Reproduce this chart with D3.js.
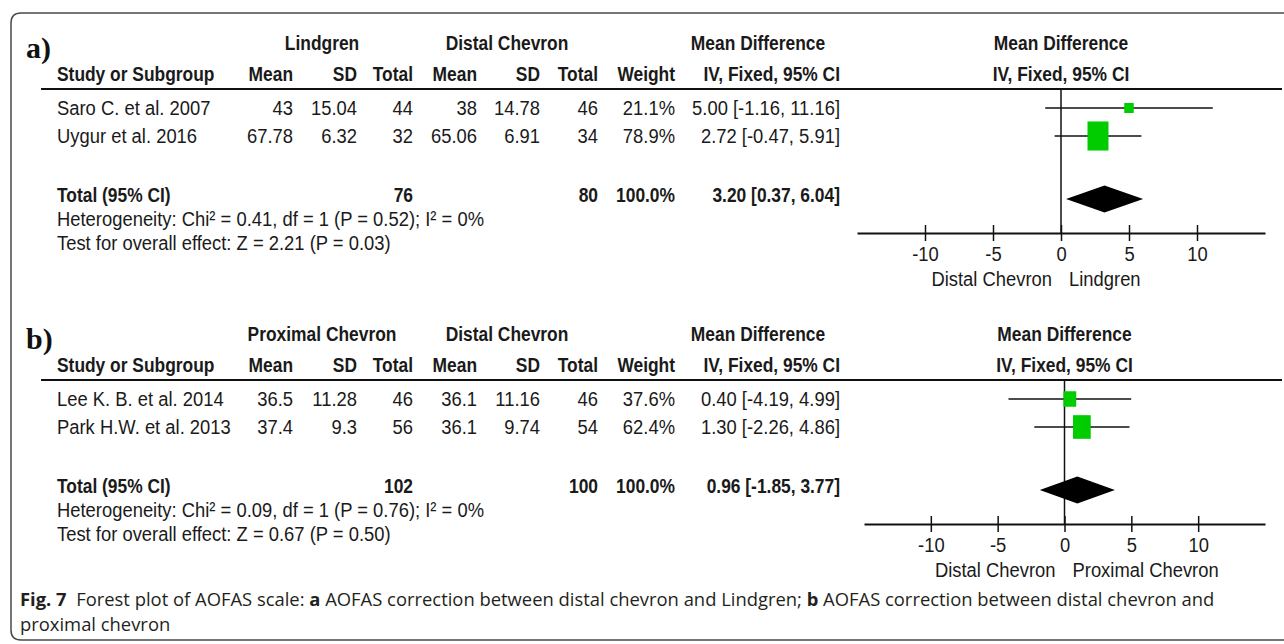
<!DOCTYPE html>
<html><head><meta charset="utf-8">
<script src="https://cdn.jsdelivr.net/npm/d3@7"></script>
<style>
html,body{margin:0;padding:0;background:#fff;}
svg{display:block;}
</style></head><body>
<svg id="c" width="1284" height="644"></svg>
<script>
// ---------------- data ----------------
const panelLabels = ["a)", "b)"];
const expGroups = ["Lindgren", "Proximal Chevron"];
const ctrlGroups = ["Distal Chevron", "Distal Chevron"];

const studiesA = ["Saro C. et al. 2007", "Uygur et al. 2016"];
const expMeanA = [43, 67.78];
const expSDA = [15.04, 6.32];
const expNA = [44, 32];
const ctrlMeanA = [38, 65.06];
const ctrlSDA = [14.78, 6.91];
const ctrlNA = [46, 34];
const weightA = [21.1, 78.9];
const mdA = [5.00, 2.72];
const loA = [-1.16, -0.47];
const hiA = [11.16, 5.91];

const studiesB = ["Lee K. B. et al. 2014", "Park H.W. et al. 2013"];
const expMeanB = [36.5, 37.4];
const expSDB = [11.28, 9.3];
const expNB = [46, 56];
const ctrlMeanB = [36.1, 36.1];
const ctrlSDB = [11.16, 9.74];
const ctrlNB = [46, 54];
const weightB = [37.6, 62.4];
const mdB = [0.40, 1.30];
const loB = [-4.19, -2.26];
const hiB = [4.99, 4.86];

const totalExpN = [76, 102];
const totalCtrlN = [80, 100];
const totalWeight = [100.0, 100.0];
const totalMD = [3.20, 0.96];
const totalLo = [0.37, -1.85];
const totalHi = [6.04, 3.77];
const heterogeneity = [
  "Heterogeneity: Chi² = 0.41, df = 1 (P = 0.52); I² = 0%",
  "Heterogeneity: Chi² = 0.09, df = 1 (P = 0.76); I² = 0%"
];
const overallEffect = [
  "Test for overall effect: Z = 2.21 (P = 0.03)",
  "Test for overall effect: Z = 0.67 (P = 0.50)"
];
const axisTicks = [-10, -5, 0, 5, 10];
const axisDomain = [-15, 15];
const favourLeft = ["Distal Chevron", "Distal Chevron"];
const favourRight = ["Lindgren", "Proximal Chevron"];
const captionBold1 = "Fig. 7";
const captionParts = [
  ["  Forest plot of AOFAS scale: ", false],
  ["a", true],
  [" AOFAS correction between distal chevron and Lindgren; ", false],
  ["b", true],
  [" AOFAS correction between distal chevron and", false]
];
const captionLine2 = "proximal chevron";

// ---------------- drawing ----------------
const svg = d3.select("#c");
const FONT = '"Liberation Sans","Arial",sans-serif';
const FS = 20;
const SXB = 0.87, SXR = 0.92, SY = 1.05;
const ink = "#1a1a1a";

// frame
svg.append("path")
  .attr("d", "M 1290 13 L 21 13 Q 11 13 11 23 L 11 630 Q 11 640 21 640 L 1290 640")
  .attr("fill", "none").attr("stroke", "#4a4a4a").attr("stroke-width", 1.5);

const panels = [
  {top: 0, rows: studiesA, em: expMeanA, es: expSDA, en: expNA, cm: ctrlMeanA, cs: ctrlSDA, cn: ctrlNA,
   w: weightA, md: mdA, lo: loA, hi: hiA, range: [857, 1265]},
  {top: 291, rows: studiesB, em: expMeanB, es: expSDB, en: expNB, cm: ctrlMeanB, cs: ctrlSDB, cn: ctrlNB,
   w: weightB, md: mdB, lo: loB, hi: hiB, range: [864, 1265]}
];

const col = {study: 57, em: 293, es: 357, en: 413, cm: 477, cs: 540, cn: 598, w: 675, ci: 840,
             expG: 322, ctrlG: 507, mdG: 758};
const Y = {grp: 43, hdr: 74, line: 89, rows: [108, 136], total: 195, het: 219, test: 243, axis: 233};

const boxW = d3.scaleLinear().domain([0, 100]).range([5.3, 25.2]);
const boxH = d3.scaleLinear().domain([0, 100]).range([3.1, 36]);
const f2 = v => v.toFixed(2);
const fmtCI = (m, l, h) => `${f2(m)} [${f2(l)}, ${f2(h)}]`;

function txt(g, x, y, s, anchor, bold, size) {
  const sx = bold ? SXB : SXR;
  return g.append("text")
    .attr("transform", `translate(${x},${y}) scale(${sx},${SY})`)
    .attr("dy", "0.35em")
    .attr("text-anchor", anchor || "start")
    .attr("font-family", FONT)
    .attr("font-size", size || FS)
    .attr("font-weight", bold ? "bold" : "normal")
    .attr("fill", ink).text(s);
}

panels.forEach((p, k) => {
  const g = svg.append("g").attr("transform", `translate(0,${p.top})`);
  // panel label
  g.append("text").attr("x", 26).attr("y", 58)
    .attr("font-family", '"Liberation Serif","DejaVu Serif",serif')
    .attr("font-weight", "bold").attr("font-size", 30).attr("fill", "#111")
    .text(panelLabels[k]);
  // group headers
  txt(g, col.expG, Y.grp, expGroups[k], "middle", true);
  txt(g, col.ctrlG, Y.grp, ctrlGroups[k], "middle", true);
  txt(g, col.mdG, Y.grp, "Mean Difference", "middle", true);
  // column headers
  txt(g, col.study, Y.hdr, "Study or Subgroup", "start", true);
  txt(g, col.em, Y.hdr, "Mean", "end", true);
  txt(g, col.es, Y.hdr, "SD", "end", true);
  txt(g, col.en, Y.hdr, "Total", "end", true);
  txt(g, col.cm, Y.hdr, "Mean", "end", true);
  txt(g, col.cs, Y.hdr, "SD", "end", true);
  txt(g, col.cn, Y.hdr, "Total", "end", true);
  txt(g, col.w, Y.hdr, "Weight", "end", true);
  txt(g, col.ci, Y.hdr, "IV, Fixed, 95% CI", "end", true);

  const x = d3.scaleLinear().domain(axisDomain).range(p.range);
  const x0 = x(0);
  txt(g, x0, Y.grp, "Mean Difference", "middle", true);
  txt(g, x0, Y.hdr, "IV, Fixed, 95% CI", "middle", true);

  // header rule
  g.append("line").attr("x1", 41).attr("x2", 1282).attr("y1", Y.line).attr("y2", Y.line)
    .attr("stroke", "#111").attr("stroke-width", 2.2);

  // study rows
  p.rows.forEach((name, i) => {
    const y = Y.rows[i];
    txt(g, col.study, y, name, "start");
    txt(g, col.em, y, String(p.em[i]), "end");
    txt(g, col.es, y, String(p.es[i]), "end");
    txt(g, col.en, y, String(p.en[i]), "end");
    txt(g, col.cm, y, String(p.cm[i]), "end");
    txt(g, col.cs, y, String(p.cs[i]), "end");
    txt(g, col.cn, y, String(p.cn[i]), "end");
    txt(g, col.w, y, p.w[i].toFixed(1) + "%", "end");
    txt(g, col.ci, y, fmtCI(p.md[i], p.lo[i], p.hi[i]), "end");
  });

  // totals
  txt(g, col.study, Y.total, "Total (95% CI)", "start", true);
  txt(g, col.en, Y.total, String(totalExpN[k]), "end", true);
  txt(g, col.cn, Y.total, String(totalCtrlN[k]), "end", true);
  txt(g, col.w, Y.total, totalWeight[k].toFixed(1) + "%", "end", true);
  txt(g, col.ci, Y.total, fmtCI(totalMD[k], totalLo[k], totalHi[k]), "end", true);
  txt(g, col.study, Y.het, heterogeneity[k], "start");
  txt(g, col.study, Y.test, overallEffect[k], "start");

  // forest: zero line
  g.append("line").attr("x1", x0).attr("x2", x0).attr("y1", Y.line).attr("y2", Y.axis)
    .attr("stroke", "#111").attr("stroke-width", 1.5);

  // CI lines and boxes
  p.rows.forEach((name, i) => {
    const y = Y.rows[i];
    g.append("line").attr("x1", x(p.lo[i])).attr("x2", x(p.hi[i])).attr("y1", y).attr("y2", y)
      .attr("stroke", "#111").attr("stroke-width", 1.5);
    const bw = boxW(p.w[i]), bh = boxH(p.w[i]);
    g.append("rect").attr("x", x(p.md[i]) - bw / 2).attr("y", y - bh / 2)
      .attr("width", bw).attr("height", bh).attr("fill", "#00cc00");
  });

  // diamond
  const dy = Y.total + 4, dh = 13.5;
  g.append("path")
    .attr("d", `M${x(totalLo[k])},${dy} L${x(totalMD[k])},${dy - dh} L${x(totalHi[k])},${dy} L${x(totalMD[k])},${dy + dh} Z`)
    .attr("fill", "#000");

  // axis
  const ax = g.append("g").attr("transform", `translate(0,${Y.axis})`)
    .call(d3.axisBottom(x).tickValues(axisTicks).tickSizeOuter(0).tickSizeInner(8).tickPadding(4)
      .tickFormat(d => String(d)));
  ax.select(".domain").attr("stroke", "#111").attr("stroke-width", 1.8);
  ax.selectAll(".tick line").attr("y1", -8).attr("y2", 8).attr("stroke", "#111").attr("stroke-width", 1.5);
  ax.selectAll(".tick text").attr("font-family", FONT).attr("font-size", FS).attr("fill", ink)
    .attr("transform", `scale(${SXR},${SY})`);

  txt(g, x0 - 9, Y.axis + 46, favourLeft[k], "end", false);
  txt(g, x0 + 8, Y.axis + 46, favourRight[k], "start", false);
});

// caption
const CAPF = '"Open Sans","Noto Sans",sans-serif';
const cap = svg.append("text").attr("x", 20).attr("y", 606)
  .attr("font-family", CAPF).attr("font-size", 18.4).attr("fill", "#231f20");
cap.append("tspan").attr("font-weight", "bold").text(captionBold1);
captionParts.forEach(([s, b]) => cap.append("tspan").attr("font-weight", b ? "bold" : "normal")
  .attr("xml:space", "preserve").text(s));
svg.append("text").attr("x", 20).attr("y", 631)
  .attr("font-family", CAPF).attr("font-size", 18.4).attr("fill", "#231f20")
  .text(captionLine2);
</script>
</body></html>
